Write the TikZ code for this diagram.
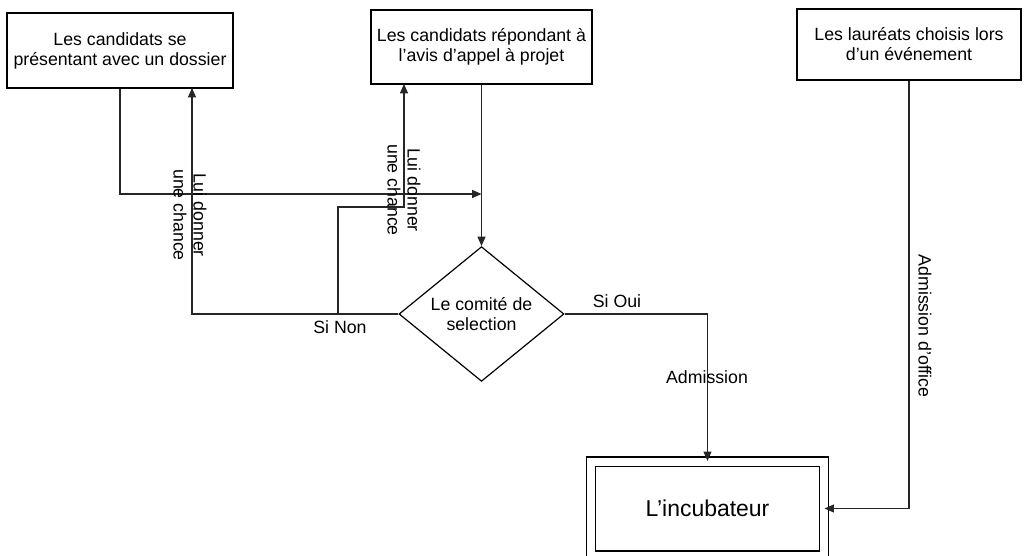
\documentclass[tikz,border=0pt]{standalone}
\usepackage{fontspec}
\setmainfont{Liberation Sans}
\usepackage{tikz}
\usetikzlibrary{arrows.meta,positioning,calc,shapes.geometric}

\begin{document}
\begin{tikzpicture}[
    x=0.75pt, y=-0.75pt,
    font=\fontsize{13.3}{15}\selectfont,
    source/.style={draw, line width=1.1pt, align=center, inner sep=0pt},
    decision/.style={draw, diamond, line width=0.9pt, align=center, inner sep=0pt,
      minimum width=123.75pt, minimum height=96pt},
    incub/.style={draw, double, line width=0.9pt, double distance=6pt,
      minimum width=174.75pt, minimum height=70.5pt, font=\fontsize{17.2}{20}\selectfont},
    link/.style={draw=black!85, line width=0.8pt, -{Triangle[length=7pt,width=6pt]}},
    lbl/.style={inner sep=0pt, align=center},
  ]
    \useasboundingbox (0,0) rectangle (1024,556);

    % sources
    \node[source, minimum width=169.5pt, minimum height=56.25pt] (cand1) at (120,50.5)
      {Les candidats se\\présentant avec un dossier};
    \node[source, minimum width=165.75pt, minimum height=55.5pt] (cand2) at (481.5,47)
      {Les candidats répondant à\\l’avis d’appel à projet};
    \node[source, minimum width=168pt, minimum height=53.25pt] (laur) at (909,44.5)
      {Les lauréats choisis lors\\d’un événement};

    % comite + incubateur
    \node[decision] (comite) at (481.5,314) {Le comité de\\selection};
    \node[incub] (incubateur) at (707.5,508.5) {L’incubateur};

    \coordinate (join) at (481.5,194);
    \coordinate (ret1) at (192,88);
    \coordinate (split) at (338,314);
    \coordinate (knee) at (338,207);
    \coordinate (ret2) at (404,84);

    % links
    \draw[link] (cand1.south) |- (join);
    \draw[link] (cand2.south) -- (comite.north);
    \draw[link] (comite.west) -| (ret1);
    \draw[link] (split) -- (knee) -| (ret2);
    \draw[link] (comite.east) -| (incubateur.north);
    \draw[link] (laur.south) |- (incubateur.east);

    % labels
    \node[lbl, rotate=-90] (chance1) at (190,215) {Lui donner\\une chance};
    \node[lbl, rotate=-90] (chance2) at (404,190) {Lui donner\\une chance};
    \node[lbl] (non) at (340,327) {Si Non};
    \node[lbl] (oui) at (617,301) {Si Oui};
    \node[lbl] (adm) at (707,377) {Admission};
    \node[lbl, rotate=-90] (office) at (925,326) {Admission d’office};
  \end{tikzpicture}
\end{document}
